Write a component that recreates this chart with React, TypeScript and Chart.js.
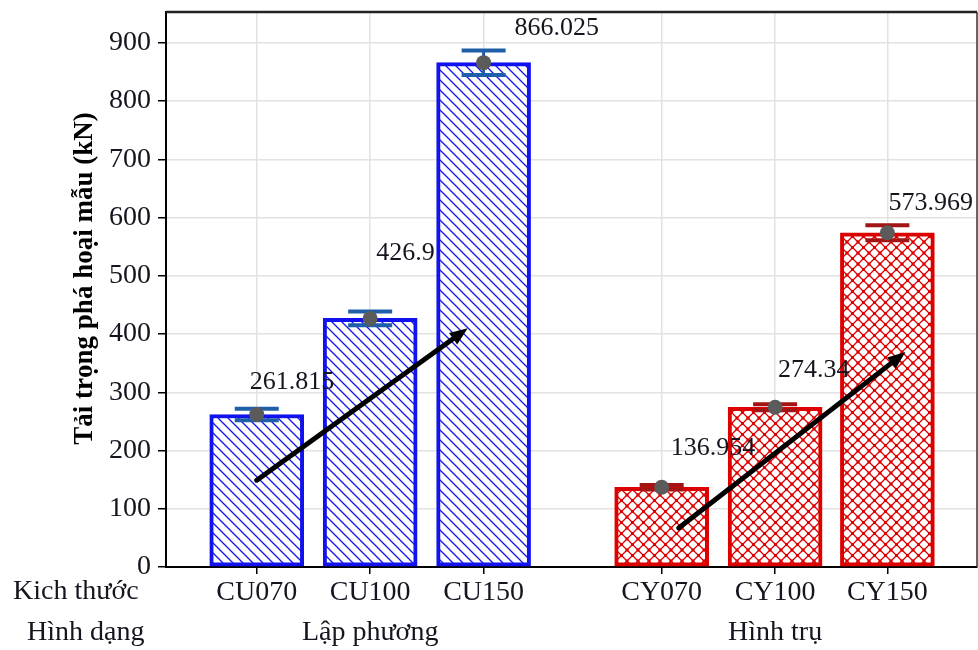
import React, { useEffect, useRef } from 'react';
import { Chart, registerables } from 'chart.js';

Chart.register(...registerables);

// ---------- data ----------
const categories = ['CU070', 'CU100', 'CU150', 'CY070', 'CY100', 'CY150'];
const categoryPositions = [1, 2, 3, 4.57, 5.57, 6.56];
const loads = [261.815, 426.9, 866.025, 136.954, 274.34, 573.969];
const loadErrors = [10, 12, 21, 4, 5, 13];
const valueLabels = ['261.815', '426.9', '866.025', '136.954', '274.34', '573.969'];
const groupNames = ['Lập phương', 'Hình trụ'];
const groupCentreIndex = [1, 4];
const rowTitles = ['Kich thước', 'Hình dạng'];
const yTicks = [0, 100, 200, 300, 400, 500, 600, 700, 800, 900];
const yTitle = 'Tải trọng phá hoại mẫu (kN)';
// trend arrows in data units: [xFrom, yFrom, xTo, yTo]
const arrowCU = [1.0, 149, 2.86, 410];
const arrowCY = [4.72, 67, 6.72, 369];

// ---------- styles ----------
const FONT = '"Liberation Serif", "Times New Roman", serif';
const BLUE = '#1212ee';
const RED = '#dd0000';
const ERR_BLUE = '#1f5ea8';
const ERR_RED = '#a31414';
const TEXT = '#151520';
// label offsets in px: [dx of text left from bar centre, dy of text middle from bar top]
const labelOffsets = [[-7, -32], [6, -65], [31, -34], [9, -39], [3, -37], [1, -30]];

function makeHatch(): CanvasPattern | string {
  const c = document.createElement('canvas');
  c.width = 10; c.height = 10;
  const g = c.getContext('2d');
  if (!g) return BLUE;
  g.fillStyle = '#ffffff';
  g.fillRect(0, 0, 10, 10);
  g.strokeStyle = BLUE;
  g.lineWidth = 1.3;
  g.beginPath();
  g.moveTo(-1, -1); g.lineTo(11, 11);
  g.moveTo(-1, 9); g.lineTo(1, 11);
  g.moveTo(9, -1); g.lineTo(11, 1);
  g.stroke();
  return g.createPattern(c, 'repeat') || BLUE;
}

function makeCross(): CanvasPattern | string {
  const s = 11;
  const c = document.createElement('canvas');
  c.width = s; c.height = s;
  const g = c.getContext('2d');
  if (!g) return RED;
  g.fillStyle = '#ffffff';
  g.fillRect(0, 0, s, s);
  g.strokeStyle = RED;
  g.lineWidth = 1.3;
  g.beginPath();
  g.moveTo(-1, -1); g.lineTo(s + 1, s + 1);
  g.moveTo(s + 1, -1); g.lineTo(-1, s + 1);
  g.stroke();
  g.fillStyle = RED;
  g.fillRect(s / 2 - 1.5, s / 2 - 1.5, 3, 3);
  g.fillRect(-1.5, -1.5, 3, 3);
  g.fillRect(s - 1.5, -1.5, 3, 3);
  g.fillRect(-1.5, s - 1.5, 3, 3);
  g.fillRect(s - 1.5, s - 1.5, 3, 3);
  return g.createPattern(c, 'repeat') || RED;
}

const decorPlugin = {
  id: 'decor',
  afterDatasetsDraw(chart: any) {
    const { ctx, chartArea } = chart;
    const xs = chart.scales.x;
    const ys = chart.scales.y;
    ctx.save();
    // frame top & right
    ctx.strokeStyle = '#222';
    ctx.lineWidth = 2.5;
    ctx.beginPath();
    ctx.moveTo(chartArea.left, chartArea.top);
    ctx.lineTo(chartArea.right, chartArea.top);
    ctx.stroke();
    ctx.lineWidth = 1.5;
    ctx.strokeStyle = '#333';
    ctx.beginPath();
    ctx.moveTo(chartArea.right, chartArea.top);
    ctx.lineTo(chartArea.right, chartArea.bottom);
    ctx.stroke();

    // error bars
    categoryPositions.forEach((xv, i) => {
      const px = xs.getPixelForValue(xv);
      const top = ys.getPixelForValue(loads[i] + loadErrors[i]);
      const bot = ys.getPixelForValue(loads[i] - loadErrors[i]);
      ctx.strokeStyle = i < 3 ? ERR_BLUE : ERR_RED;
      ctx.lineWidth = 3;
      ctx.beginPath();
      ctx.moveTo(px, top); ctx.lineTo(px, bot);
      ctx.stroke();
      ctx.lineWidth = 4;
      ctx.beginPath();
      ctx.moveTo(px - 22, top); ctx.lineTo(px + 22, top);
      ctx.moveTo(px - 22, bot); ctx.lineTo(px + 22, bot);
      ctx.stroke();
    });
    // mean markers
    categoryPositions.forEach((xv, i) => {
      const px = xs.getPixelForValue(xv);
      const py = ys.getPixelForValue(loads[i]);
      ctx.fillStyle = '#5b5b5b';
      ctx.beginPath();
      ctx.arc(px, py, 7.5, 0, Math.PI * 2);
      ctx.fill();
    });
    // arrows
    [arrowCU, arrowCY].forEach((a) => {
      const x1 = xs.getPixelForValue(a[0]);
      const y1 = ys.getPixelForValue(a[1]);
      const x2 = xs.getPixelForValue(a[2]);
      const y2 = ys.getPixelForValue(a[3]);
      const ang = Math.atan2(y2 - y1, x2 - x1);
      const hl = 18, hw = 7;
      const bx = x2 - hl * Math.cos(ang);
      const by = y2 - hl * Math.sin(ang);
      ctx.strokeStyle = '#000';
      ctx.lineWidth = 5;
      ctx.lineCap = 'round';
      ctx.beginPath();
      ctx.moveTo(x1, y1); ctx.lineTo(bx, by);
      ctx.stroke();
      ctx.fillStyle = '#000';
      ctx.beginPath();
      ctx.moveTo(x2, y2);
      ctx.lineTo(bx + hw * Math.sin(ang), by - hw * Math.cos(ang));
      ctx.lineTo(bx - hw * Math.sin(ang), by + hw * Math.cos(ang));
      ctx.closePath();
      ctx.fill();
    });
    // value labels
    ctx.font = `26px ${FONT}`;
    ctx.fillStyle = TEXT;
    ctx.textAlign = 'left';
    ctx.textBaseline = 'middle';
    valueLabels.forEach((t, i) => {
      const px = xs.getPixelForValue(categoryPositions[i]);
      const py = ys.getPixelForValue(loads[i]);
      ctx.fillText(t, px + labelOffsets[i][0], py + labelOffsets[i][1]);
    });
    ctx.restore();
  },
  afterDraw(chart: any) {
    const { ctx, chartArea } = chart;
    const xs = chart.scales.x;
    ctx.save();
    ctx.fillStyle = TEXT;
    ctx.textBaseline = 'middle';
    ctx.font = `28px ${FONT}`;
    ctx.textAlign = 'left';
    ctx.fillText(rowTitles[0], 13, 592);
    ctx.fillText(rowTitles[1], 27, 633);
    ctx.textAlign = 'center';
    groupNames.forEach((g, i) => {
      const px = xs.getPixelForValue(categoryPositions[groupCentreIndex[i]]);
      ctx.fillText(g, px, 633);
    });
    // y title
    ctx.font = `bold 27px ${FONT}`;
    ctx.fillStyle = '#000';
    ctx.translate(85, (chartArea.top + chartArea.bottom) / 2 - 11);
    ctx.rotate(-Math.PI / 2);
    ctx.textAlign = 'center';
    ctx.fillText(yTitle, 0, 0);
    ctx.restore();
  },
};

export default function App() {
  const ref = useRef<HTMLCanvasElement | null>(null);
  useEffect(() => {
    document.body.style.margin = '0';
    const canvas = ref.current;
    if (!canvas) return;
    const hatch = makeHatch();
    const cross = makeCross();
    const chart = new Chart(canvas, {
      type: 'bar',
      data: {
        datasets: [
          {
            data: categoryPositions.map((x, i) => ({ x, y: loads[i] })),
            backgroundColor: categories.map((_, i) => (i < 3 ? hatch : cross)),
            borderColor: categories.map((_, i) => (i < 3 ? BLUE : RED)),
            borderWidth: 4,
            borderSkipped: false,
            barThickness: 94,
          } as any,
        ],
      },
      options: {
        animation: false,
        responsive: false,
        maintainAspectRatio: false,
        layout: { padding: { left: 0, top: 12, right: 1, bottom: 0 } },
        plugins: { legend: { display: false }, tooltip: { enabled: false } },
        scales: {
          x: {
            type: 'linear',
            offset: false,
            min: 0.2,
            max: 7.35,
            afterBuildTicks: (s: any) => {
              s.ticks = categoryPositions.map((v) => ({ value: v }));
            },
            afterFit: (s: any) => {
              s.height = 83;
              s.paddingLeft = 0;
              s.paddingRight = 0;
            },
            ticks: {
              autoSkip: false,
              maxRotation: 0,
              padding: 2,
              color: TEXT,
              font: { family: FONT, size: 28 },
              callback: (_v: any, i: number) => categories[i],
            },
            grid: { offset: false, color: '#e2e2e2', lineWidth: 1.5, tickLength: 7, tickColor: '#000', tickWidth: 1.5 },
            border: { color: '#000', width: 2 },
          },
          y: {
            min: 0,
            max: 953,
            afterBuildTicks: (s: any) => {
              s.ticks = yTicks.map((v) => ({ value: v }));
            },
            afterFit: (s: any) => {
              s.width = 166;
              s.paddingTop = 0;
              s.paddingBottom = 0;
            },
            ticks: {
              padding: 7,
              color: TEXT,
              font: { family: FONT, size: 28 },
            },
            grid: { color: '#e2e2e2', lineWidth: 1.5, tickLength: 8, tickColor: '#000', tickWidth: 1.5 },
            border: { color: '#000', width: 2 },
          },
        },
      },
      plugins: [decorPlugin],
    });
    return () => chart.destroy();
  }, []);
  return (
    <div style={{ width: 978, height: 650 }}>
      <canvas ref={ref} width={978} height={650} style={{ display: 'block' }} />
    </div>
  );
}
